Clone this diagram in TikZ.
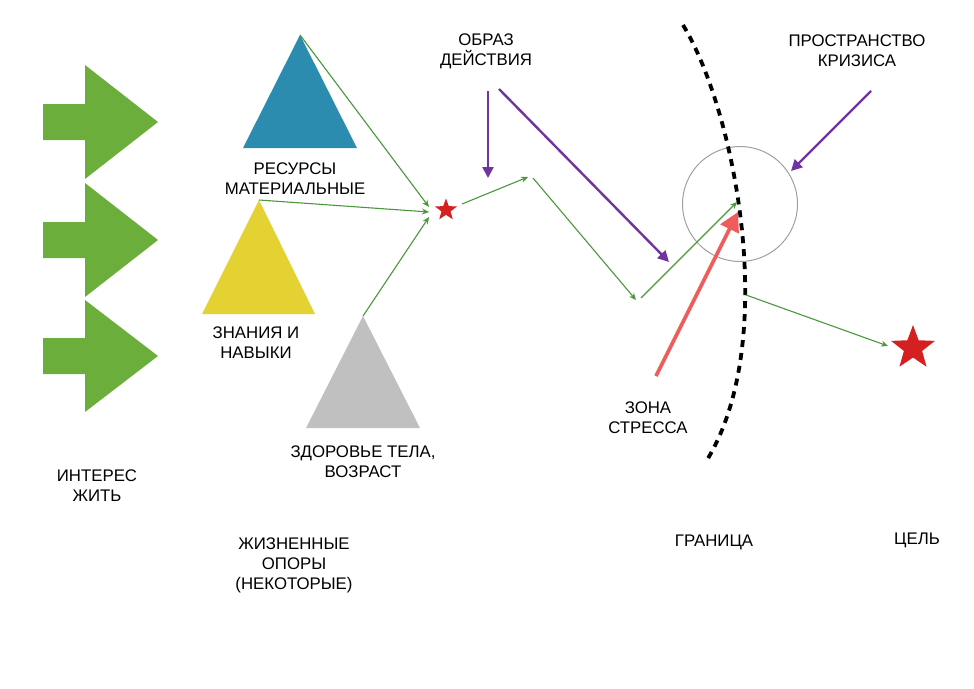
\documentclass[tikz,border=0pt]{standalone}
\usepackage{fontspec}
\setmainfont{Liberation Sans}
\usetikzlibrary{shapes.geometric,arrows.meta}
\definecolor{arrgreen}{RGB}{108,174,60}
\definecolor{linegreen}{RGB}{74,152,58}
\definecolor{triblue}{RGB}{44,140,176}
\definecolor{triyellow}{RGB}{228,210,50}
\definecolor{trigray}{RGB}{192,192,192}
\definecolor{purp}{RGB}{112,52,160}
\definecolor{pinkred}{RGB}{238,92,92}
\definecolor{starred}{RGB}{212,32,32}
\definecolor{circgray}{RGB}{160,160,160}
\tikzset{
  lbl/.style={align=center,inner sep=0pt,font=\fontsize{16.8}{20}\selectfont},
  gline/.style={draw=linegreen,line width=1.1pt,-{Stealth[length=7pt,width=6pt]}},
  pline/.style={draw=purp,line width=2.4pt,-{Triangle[length=11pt,width=11pt]}},
  redstar/.style={star,star points=5,star point ratio=2.4,fill=starred,draw=none,inner sep=0pt},
  blockarrow/.style={fill=arrgreen,draw=none},
}
\begin{document}
\begin{tikzpicture}[x=1pt,y=-1pt]
\useasboundingbox (0,0) rectangle (974,688);
% block arrows
\foreach \t/\c in {65/122,183/240,300/356}{
  \fill[blockarrow] (43,\c-18) -- (85,\c-18) -- (85,\t) -- (158,\c) -- (85,2*\c-\t) -- (85,\c+18) -- (43,\c+18) -- cycle;
}
% triangles
\coordinate (blueTop) at (300,35);
\coordinate (yelTop) at (259,200);
\coordinate (grayTop) at (363,316);
\fill[triblue] (blueTop) -- (357,148) -- (243,148) -- cycle;
\fill[triyellow] (yelTop) -- (315,314) -- (202,314) -- cycle;
\fill[trigray] (grayTop) -- (420,428) -- (306,428) -- cycle;
% stars
\node[redstar,minimum size=23pt] (s1) at (446,210) {};
\node[redstar,minimum size=46pt] (s2) at (913,348) {};
% circle
\node[circle,draw=circgray,line width=1pt,minimum size=115pt,inner sep=0pt] (crisis) at (740,204) {};
% dashed border
\draw[black,line width=3.8pt,dash pattern=on 7pt off 6pt] (683,25) .. controls (735,110) and (780,340) .. (707,460);
% coordinates for green path
\coordinate (e1) at (429,207);
\coordinate (e2) at (429,212);
\coordinate (e3) at (429,217);
\coordinate (s1out) at (462,204);
\coordinate (k1) at (528,177);
\coordinate (k1b) at (533,178);
\coordinate (k2) at (636,300);
\coordinate (k2b) at (641,298);
\coordinate (k3) at (737,202);
\coordinate (b1) at (746,295);
\coordinate (g1) at (888,346);
\draw[gline] (blueTop) -- (e1);
\draw[gline] (yelTop) -- (e2);
\draw[gline] (grayTop) -- (e3);
\draw[gline] (s1out) -- (k1);
\draw[gline] (k1b) -- (k2);
\draw[gline] (k2b) -- (k3);
\draw[gline] (b1) -- (g1);
% pink stress arrow
\coordinate (p0) at (656,376);
\coordinate (p1) at (738,212);
\draw[pinkred,line width=3.6pt,-{Triangle[length=19pt,width=20pt]}] (p0) -- (p1);
% purple arrows
\coordinate (a0) at (488,91);
\coordinate (a1) at (488,178);
\coordinate (b0) at (499,89);
\coordinate (b1p) at (669,262);
\coordinate (c0) at (871,91);
\coordinate (c1) at (791,171);
\draw[pline] (a0) -- (a1);
\draw[pline] (b0) -- (b1p);
\draw[pline] (c0) -- (c1);
% labels
\node[lbl] (tobraz) at (486,51) {ОБРАЗ\\ДЕЙСТВИЯ};
\node[lbl] (tprostr) at (857,51) {ПРОСТРАНСТВО\\КРИЗИСА};
\node[lbl] (tres) at (295,179) {РЕСУРСЫ\\МАТЕРИАЛЬНЫЕ};
\node[lbl] (tznan) at (256,343) {ЗНАНИЯ И\\НАВЫКИ};
\node[lbl] (tzdor) at (363,462) {ЗДОРОВЬЕ ТЕЛА,\\ВОЗРАСТ};
\node[lbl] (tzona) at (648,418) {ЗОНА\\СТРЕССА};
\node[lbl] (tint) at (97,486) {ИНТЕРЕС\\ЖИТЬ};
\node[lbl] (tzhiz) at (294,565) {ЖИЗНЕННЫЕ\\ОПОРЫ\\(НЕКОТОРЫЕ)};
\node[lbl] (tgran) at (714,542) {ГРАНИЦА};
\node[lbl] (tcel) at (917,540) {ЦЕЛЬ};
\end{tikzpicture}
\end{document}
